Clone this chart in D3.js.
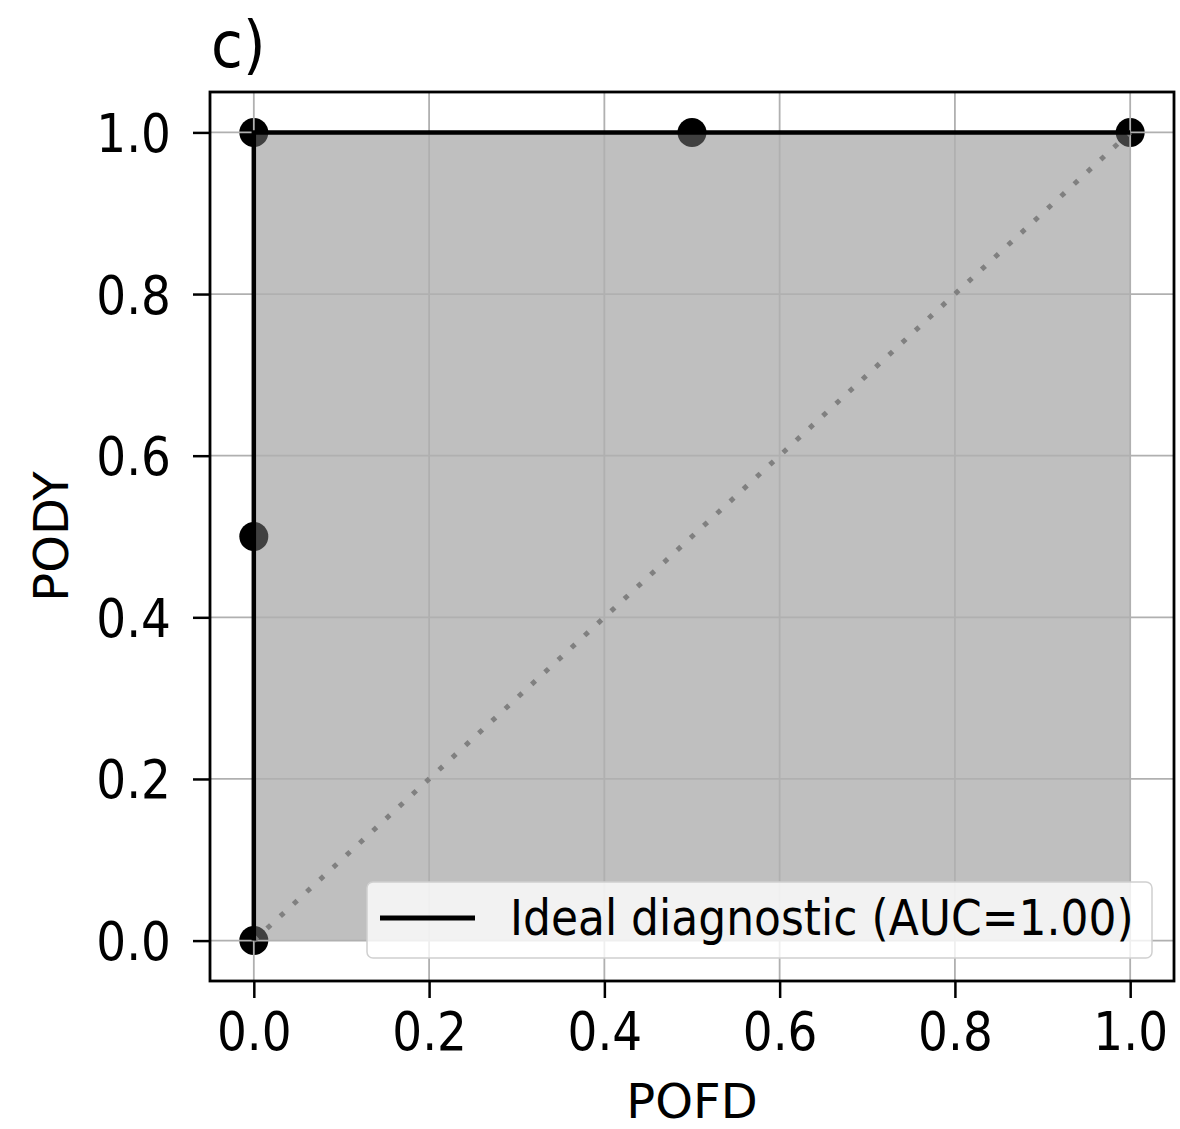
<!DOCTYPE html>
<html>
<head>
<meta charset="utf-8">
<script src="https://cdn.jsdelivr.net/npm/d3@7"></script>
<style>
  html, body { margin: 0; padding: 0; background: #fff; }
  svg { display: block; font-family: "DejaVu Sans", sans-serif; }
</style>
</head>
<body>
<svg id="chart" width="1180" height="1129"></svg>
<script>
// ---- data ----
const pofd = [0, 0, 0, 0.5, 1];
const pody = [0, 0.5, 1, 1, 1];
const diagX = [0, 1];
const diagY = [0, 1];
const xTicks = [0, 0.2, 0.4, 0.6, 0.8, 1.0];
const yTicks = [0, 0.2, 0.4, 0.6, 0.8, 1.0];
const tickLabels = ["0.0", "0.2", "0.4", "0.6", "0.8", "1.0"];
const legendLabel = "Ideal diagnostic (AUC=1.00)";
const panelTitle = "c)";
const xLabel = "POFD";
const yLabel = "PODY";

// ---- layout ----
const L = 210, R = 1174, T = 92, B = 981;
const svg = d3.select("#chart");
const x = d3.scaleLinear().domain([-0.05, 1.05]).range([L, R]);
const y = d3.scaleLinear().domain([-0.05, 1.05]).range([B, T]);
const FS = 47, SY = 1.12;

const pts = pofd.map((v, i) => ({x: v, y: pody[i]}));

svg.append("rect").attr("x", L).attr("y", T).attr("width", R - L).attr("height", B - T).attr("fill", "#fff");

// scatter points (below fill)
svg.append("g").selectAll("circle").data(pts).join("circle")
  .attr("cx", d => x(d.x)).attr("cy", d => y(d.y)).attr("r", 14.5).attr("fill", "#000");

// fill under curve
const area = d3.area().x(d => x(d.x)).y0(y(0)).y1(d => y(d.y));
svg.append("path").datum(pts).attr("d", area).attr("fill", "#808080").attr("fill-opacity", 0.5);

// grid
const grid = svg.append("g").attr("stroke", "#b0b0b0").attr("stroke-width", 1.8);
grid.selectAll("line.gx").data(xTicks).join("line").attr("class", "gx")
  .attr("x1", d => x(d)).attr("x2", d => x(d)).attr("y1", T).attr("y2", B);
grid.selectAll("line.gy").data(yTicks).join("line").attr("class", "gy")
  .attr("y1", d => y(d)).attr("y2", d => y(d)).attr("x1", L).attr("x2", R);

// diagonal dotted
const line = d3.line().x(d => x(d.x)).y(d => y(d.y));
svg.append("path").datum(diagX.map((v, i) => ({x: v, y: diagY[i]})))
  .attr("d", line).attr("fill", "none").attr("stroke", "#808080")
  .attr("stroke-width", 5).attr("stroke-dasharray", "5,13");

// main ROC line
svg.append("path").datum(pts).attr("d", line).attr("fill", "none")
  .attr("stroke", "#000").attr("stroke-width", 4.5).attr("stroke-linejoin", "miter");

// axes with d3 axis
const xAxis = d3.axisBottom(x).tickValues(xTicks).tickFormat((d, i) => tickLabels[i]).tickSize(17).tickPadding(10);
const yAxis = d3.axisLeft(y).tickValues(yTicks).tickFormat((d, i) => tickLabels[i]).tickSize(17).tickPadding(22);
const gx = svg.append("g").attr("transform", `translate(0,${B})`).call(xAxis);
const gy = svg.append("g").attr("transform", `translate(${L},0)`).call(yAxis);
[gx, gy].forEach(g => {
  g.select(".domain").remove();
  g.selectAll(".tick line").attr("stroke", "#000").attr("stroke-width", 2.5);
  g.selectAll(".tick text").attr("fill", "#000").attr("font-size", FS).attr("font-family", "DejaVu Sans");
});
gx.selectAll(".tick text").attr("y", 0).attr("dy", null)
  .attr("transform", `translate(0,69) scale(1,${SY})`);
gy.selectAll(".tick text").attr("x", 0).attr("dy", null)
  .attr("transform", `translate(-39,19) scale(1,${SY})`);

// frame
svg.append("rect").attr("x", L).attr("y", T).attr("width", R - L).attr("height", B - T)
  .attr("fill", "none").attr("stroke", "#000").attr("stroke-width", 2.8);

// legend
const lg = svg.append("g");
lg.append("rect").attr("x", 367).attr("y", 882).attr("width", 785).attr("height", 76).attr("rx", 6)
  .attr("fill", "#fff").attr("fill-opacity", 0.8).attr("stroke", "#d0d0d0").attr("stroke-width", 1.5);
lg.append("line").attr("x1", 380).attr("x2", 475).attr("y1", 918).attr("y2", 918)
  .attr("stroke", "#000").attr("stroke-width", 5);
lg.append("text").attr("transform", `translate(510,935) scale(1,${SY})`)
  .attr("font-size", 44).attr("fill", "#000").text(legendLabel);

// labels
svg.append("text").attr("transform", `translate(211,67) scale(1,1.1)`)
  .attr("font-size", 58).attr("fill", "#000").text(panelTitle);
svg.append("text").attr("x", (L + R) / 2).attr("y", 1118).attr("text-anchor", "middle")
  .attr("font-size", 48).attr("fill", "#000").text(xLabel);
svg.append("text").attr("transform", `translate(68,${(T + B) / 2}) rotate(-90)`).attr("text-anchor", "middle")
  .attr("font-size", 48).attr("fill", "#000").text(yLabel);
</script>
</body>
</html>
